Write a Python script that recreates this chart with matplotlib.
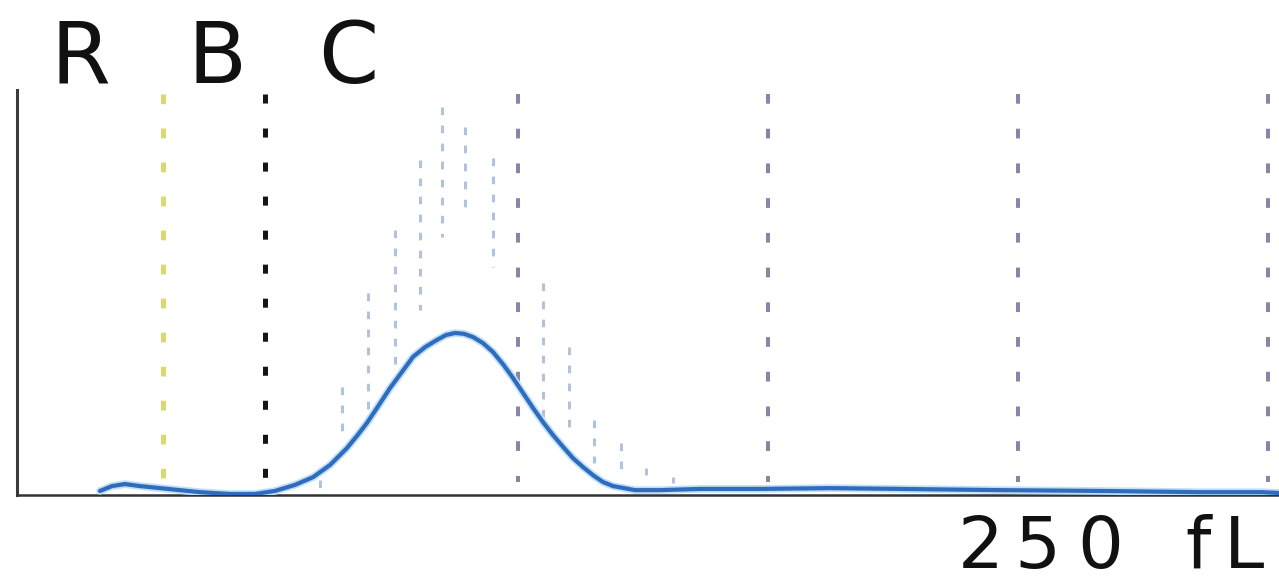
import numpy as np
import matplotlib
matplotlib.use("Agg")
import matplotlib.pyplot as plt

# RBC volume histogram, x in fL, y in arbitrary counts (0-100)
curve_x = [16.6, 19, 21.6, 24.6, 28.6, 36.6, 42.6, 47.6, 51.6, 55.6, 59.2, 62.6, 66, 68, 70, 72, 74.6, 77,
	79.2, 81.6, 84, 85.8, 87.6, 89.4, 91.2, 93.2, 95.2, 97.2, 99.2, 101.2, 103.2, 105.2, 107.2, 109.2,
	111.2, 113.2, 115.2, 117.2, 119.2, 123.6, 128.6, 136.6, 148.6,
	162.6, 176.6, 196.6, 216.6, 236.6, 249, 252.4]
curve_y = [1.0, 2.2, 2.7, 2.2, 1.7, 0.7, 0.25, 0.25, 1.0, 2.5, 4.4, 7.4, 11.6, 14.6, 17.8, 21.5, 26.4, 30.4,
	34.1, 36.5, 38.3, 39.5, 40.0, 39.8, 39.0, 37.5, 35.3, 32.3, 28.9, 25.2, 21.5, 18.0, 14.8, 11.9,
	9.1, 6.9, 4.9, 3.2, 2.2, 1.2, 1.2, 1.5, 1.5,
	1.7, 1.5, 1.2, 1.0, 0.7, 0.7, 0.5]

# faint dotted columns (previous sample)
ghost_x = [60.6, 65, 70.2, 75.6, 80.6, 85, 89.6, 95.2, 105.2, 110.4, 115.4, 120.8, 125.8, 131.2]
ghost_top = [3.7, 26.7, 49.9, 65.4, 82.7, 95.8, 90.9, 83.2, 52.3, 36.5, 18.5, 12.8, 6.7, 4.4]
ghost_bottom = [0.7, 13.6, 20.2, 31.6, 45.7, 63.7, 68.6, 56.3, 19.3, 16.0, 7.9, 5.4, 4.9, 3.0]

# discriminator / grid lines
lower_disc = 29.2
upper_disc = 49.6
grid_x = [100.2, 150.2, 200.2, 250.2]
line_top = 99.0
line_bottom = 3.2

title_chars = ["R", "B", "C"]
title_px = [80, 217, 348]
unit_chars = ["2", "5", "0", "f", "L"]
unit_px = [981, 1037, 1100, 1198, 1244]

plt.rcParams['lines.scale_dashes'] = False
W, H = 1279, 585
fig = plt.figure(figsize=(W / 100, H / 100), dpi=100)
x0, y0, y1 = 17, 495, 90
ax = fig.add_axes([x0 / W, (H - y0) / H, (W - x0) / W, (y0 - y1) / H])
ax.set_xlim(0, (W - x0) / 5)
ax.set_ylim(0, 100)
for s in ['top', 'right']:
	ax.spines[s].set_visible(False)
ax.spines['left'].set_linewidth(2.2)
ax.spines['left'].set_color('#3a3a3a')
ax.spines['bottom'].set_linewidth(1.8)
ax.spines['bottom'].set_color('#333333')
ax.set_xticks([])
ax.set_yticks([])

for gx, gt, gb in zip(ghost_x, ghost_top, ghost_bottom):
	ax.plot([gx, gx], [gt, gb], color='#b0c2dc', lw=2.2, linestyle=(0, (5.5, 7.5)),
		solid_capstyle='butt', dash_capstyle='butt')

ax.plot([lower_disc, lower_disc], [line_top, line_bottom], color='#dcd870', lw=3.6,
	linestyle=(0, (7, 17.5)), dash_capstyle='butt')
ax.plot([upper_disc, upper_disc], [line_top, line_bottom], color='#151515', lw=3.6,
	linestyle=(0, (6.5, 18)), dash_capstyle='butt')
for gx in grid_x:
	ax.plot([gx, gx], [line_top, line_bottom], color='#8a84a6', lw=2.9,
		linestyle=(0, (7, 18)), dash_capstyle='butt', clip_on=False)

ax.plot(curve_x, curve_y, color='#bfe0f6', lw=5.5, solid_capstyle='round', zorder=4)
ax.plot(curve_x, curve_y, color='#2f6cc0', lw=3.0, solid_capstyle='round',
	solid_joinstyle='round', zorder=5)

for ch, px in zip(title_chars, title_px):
	fig.text(px / W, 1 - 83 / H, ch, ha='center', va='baseline', fontsize=62,
		family='DejaVu Sans', color='#111111')
for ch, px in zip(unit_chars, unit_px):
	fig.text(px / W, 1 - 568 / H, ch, ha='center', va='baseline', fontsize=52,
		family='DejaVu Sans', color='#111111')

fig.savefig('out.png', dpi=100)
